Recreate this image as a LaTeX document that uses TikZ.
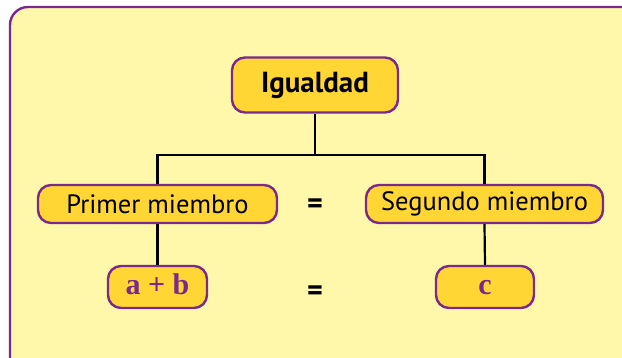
\documentclass[tikz,border=0pt]{standalone}
\usepackage{fontspec}
\setmainfont{PT Sans}
\newfontfamily\serifbold{Liberation Serif}
\definecolor{panelfill}{HTML}{FFF8AA}
\definecolor{boxfill}{HTML}{FFD634}
\definecolor{lila}{HTML}{7A2A8C}
\begin{document}
\begin{tikzpicture}[x=1pt,y=-1pt,
  box/.style={draw=lila, fill=boxfill, line width=2.4pt, rounded corners=13pt, inner sep=0pt, align=center},
  mathbox/.style={box, minimum height=42pt, text=lila, text height=18pt, text depth=2pt, font=\fontsize{30}{30}\serifbold\bfseries},
  conn/.style={draw=black, line width=2.2pt},
  eqsign/.style={font=\fontsize{30}{30}\selectfont\bfseries, inner sep=0pt}]
\useasboundingbox (0,0) rectangle (622,358);
\clip (0,0) rectangle (622,358);
\fill[white] (0,0) rectangle (622,358);
\draw[draw=lila, fill=panelfill, line width=2.4pt, rounded corners=18pt] (10,7) rectangle (660,400);
\node[box, minimum width=166pt, minimum height=55pt, font=\fontsize{29}{29}\selectfont\bfseries] (ig) at (315,85) {Igualdad};
\node[box, minimum width=239pt, minimum height=38pt, font=\fontsize{26.5}{26.5}\selectfont] (pm) at (157.5,204) {Primer miembro};
\node[box, minimum width=237pt, minimum height=38pt, font=\fontsize{26.5}{26.5}\selectfont] (sm) at (484.5,204) {Segundo miembro};
\node[mathbox, minimum width=99pt] (ab) at (157.5,287) {a + b};
\node[mathbox, minimum width=98pt] (c) at (485,287) {c};
\node[eqsign] (eq1) at (315,206) {=};
\node[eqsign] (eq2) at (315,293) {=};
\coordinate (j) at (315,155);
\draw[conn] (ig.south) -- (j);
\draw[conn] (pm.north) |- (j) -| (sm.north);
\draw[conn] (pm.south) -- (ab.north);
\draw[conn] (sm.south) -- (c.north);
\end{tikzpicture}
\end{document}
